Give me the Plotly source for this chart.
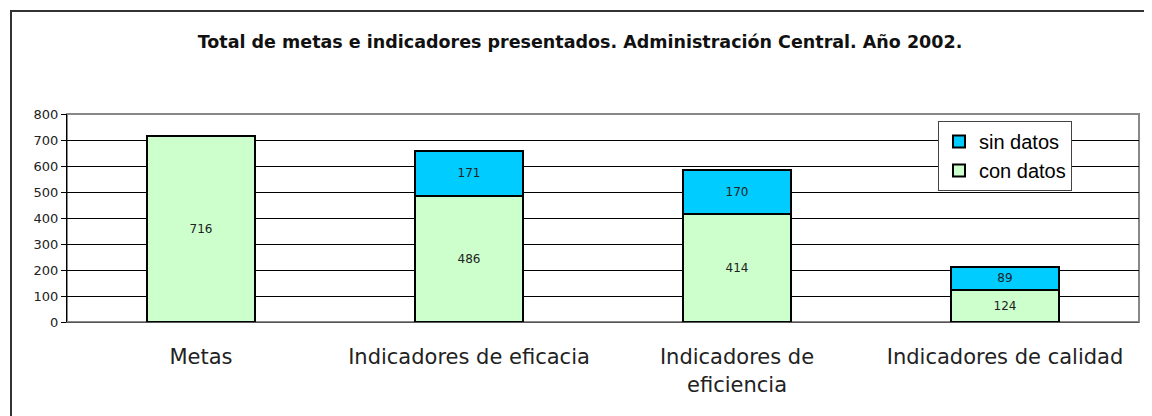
import plotly.graph_objects as go

categories = ["Metas", "Indicadores de eficacia", "Indicadores de<br>eficiencia", "Indicadores de calidad"]
con_datos = [716, 486, 414, 124]
sin_datos = [None, 171, 170, 89]
y_ticks = [0, 100, 200, 300, 400, 500, 600, 700, 800]

fig = go.Figure()
fig.add_trace(go.Bar(
    x=categories, y=con_datos, name="con datos", legendgroup="a",
    marker=dict(color="#CCFFCC", line=dict(color="black", width=2)),
    text=con_datos, textposition="inside", insidetextanchor="middle",
    textangle=0, textfont=dict(family="DejaVu Sans", size=12, color="#222"),
    width=0.4,
))
fig.add_trace(go.Bar(
    x=categories, y=sin_datos, name="sin datos", legendgroup="b",
    marker=dict(color="#00CCFF", line=dict(color="black", width=2)),
    text=sin_datos, textposition="inside", insidetextanchor="middle",
    textangle=0, textfont=dict(family="DejaVu Sans", size=12, color="#222"),
    width=0.4,
))

# page has an 8px offset; screen coords = figure coords + 8
OFF = 8
W, H = 1152 - OFF, 416 - OFF
L, R, T, B = 67 - OFF, 13, 114 - OFF, 94
pw, ph = W - L - R, H - T - B

def px_x(x):
    return (x - OFF - L) / pw

def px_y(y):
    return (H - B - (y - OFF)) / ph

fig.update_layout(
    width=W, height=H,
    barmode="stack",
    paper_bgcolor="white", plot_bgcolor="white",
    margin=dict(l=L, r=R, t=T, b=B),
    title=dict(text="<b>Total de metas e indicadores presentados. Administración Central. Año 2002.</b>",
               x=0.5, xanchor="center", y=1 - (42 - OFF) / H, yanchor="middle",
               font=dict(family="DejaVu Sans", size=17.5, color="#111")),
    legend=dict(x=px_x(938), y=px_y(121), xanchor="left", yanchor="top",
                traceorder="reversed", bgcolor="white", bordercolor="#444", borderwidth=1,
                font=dict(family="Liberation Sans", size=20, color="black"),
                itemsizing="constant", tracegroupgap=6, itemwidth=30),
    showlegend=True,
    font=dict(family="DejaVu Sans", color="#222"),
)
fig.update_yaxes(range=[0, 800], tickvals=y_ticks, showgrid=True, gridcolor="black", gridwidth=1,
                 showline=True, linecolor="black", linewidth=1, ticks="outside", ticklen=5,
                 tickcolor="black", tickfont=dict(family="DejaVu Sans", size=13, color="#222"),
                 zeroline=False, fixedrange=True)
fig.update_xaxes(showline=True, linecolor="#555", linewidth=1, ticks="", mirror=False,
                 tickfont=dict(family="DejaVu Sans", size=21, color="#222"),
                 ticklabelstandoff=16)
# plot area border (top and right, gray)
fig.add_shape(type="rect", xref="paper", yref="paper", x0=0, x1=1, y0=0, y1=1,
              line=dict(color="#888", width=2), layer="below")
# outer chart border
fig.add_shape(type="rect", xref="paper", yref="paper", x0=px_x(11), x1=px_x(1250),
              y0=px_y(520), y1=px_y(11), line=dict(color="#333", width=2))

fig.write_html("out.html")
